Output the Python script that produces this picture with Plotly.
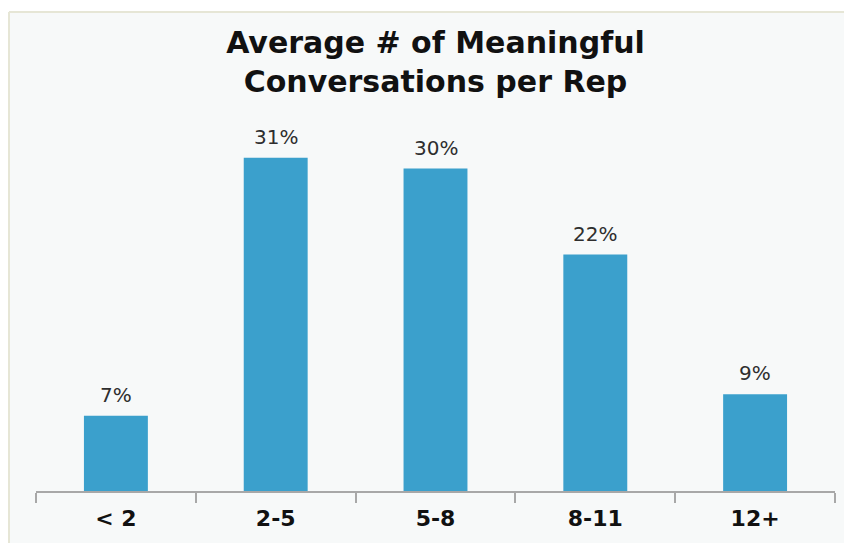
import plotly.graph_objects as go

# Share of reps by average number of meaningful conversations
categories = ["< 2", "2-5", "5-8", "8-11", "12+"]
shares = [7, 31, 30, 22, 9]
value_labels = ["7%", "31%", "30%", "22%", "9%"]

BAR_COLOR = "#3BA0CC"
AXIS_COLOR = "#A8A8A8"
FRAME_COLOR = "#E6E6D6"
PANEL_COLOR = "#F7F9F9"

fig = go.Figure(
    go.Bar(
        x=categories,
        y=shares,
        marker=dict(color=BAR_COLOR, line=dict(width=0)),
        hoverinfo="skip",
    )
)

# Percentage labels above each bar
for cat, val, lab in zip(categories, shares, value_labels):
    fig.add_annotation(
        x=cat, y=val, text=lab, showarrow=False,
        xref="x", yref="y", yanchor="bottom", yshift=7,
        font=dict(family="DejaVu Sans", size=20, color="#2E2E2E"),
    )

# White margin strips outside the panel, plus its left and top frame lines
PANEL_LEFT, PANEL_TOP = -0.0338, 1.3924
fig.add_shape(
    type="rect", xref="paper", yref="paper",
    x0=-0.2, x1=1.4, y0=PANEL_TOP, y1=1.6,
    line=dict(width=0), fillcolor="white", layer="below",
)
fig.add_shape(
    type="rect", xref="paper", yref="paper",
    x0=-0.2, x1=PANEL_LEFT, y0=-0.5, y1=1.6,
    line=dict(width=0), fillcolor="white", layer="below",
)
fig.add_shape(
    type="line", xref="paper", yref="paper",
    x0=PANEL_LEFT, x1=PANEL_LEFT, y0=-0.5, y1=PANEL_TOP,
    line=dict(color=FRAME_COLOR, width=2), layer="below",
)
fig.add_shape(
    type="line", xref="paper", yref="paper",
    x0=PANEL_LEFT, x1=1.4, y0=PANEL_TOP, y1=PANEL_TOP,
    line=dict(color=FRAME_COLOR, width=2), layer="below",
)

fig.update_layout(
    width=844, height=543,
    margin=dict(l=36, r=9, t=147, b=52),
    paper_bgcolor=PANEL_COLOR,
    plot_bgcolor="rgba(0,0,0,0)",
    bargap=0.6,
    showlegend=False,
    title=dict(
        text="Average # of Meaningful<br>Conversations per Rep",
        x=0.5, xref="paper", xanchor="center",
        y=1 - 53 / 543, yref="container", yanchor="top",
        font=dict(family="DejaVu Sans", size=30, color="#111111", weight="bold"),
    ),
    xaxis=dict(
        type="category",
        showline=True, linecolor=AXIS_COLOR, linewidth=1.5,
        ticks="outside", tickson="boundaries", ticklen=10,
        tickcolor=AXIS_COLOR, tickwidth=1.5,
        ticklabelstandoff=7,
        tickfont=dict(family="DejaVu Sans", size=22, color="#111111", weight="bold"),
        showgrid=False, zeroline=False, fixedrange=True,
    ),
    yaxis=dict(
        range=[0, 32], visible=False, showgrid=False,
        zeroline=False, fixedrange=True,
    ),
)

fig.write_html("out.html")
